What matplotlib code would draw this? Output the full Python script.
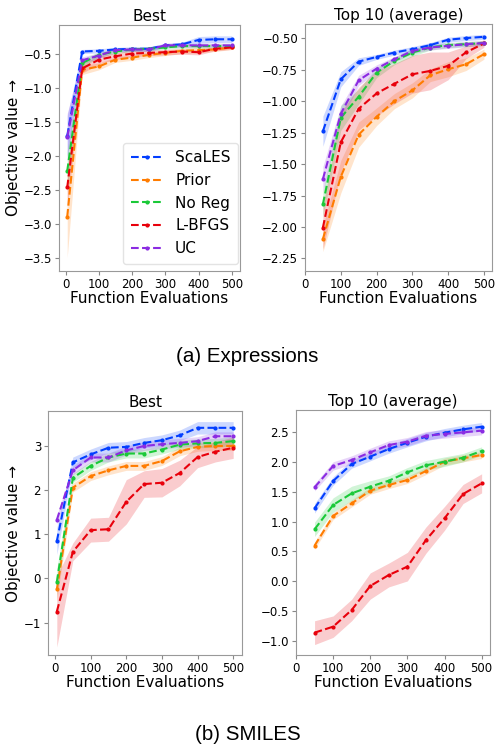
import matplotlib
matplotlib.use("Agg")
import matplotlib.pyplot as plt
import numpy as np

methods = ["ScaLES", "Prior", "No Reg", "L-BFGS", "UC"]
colors = ["#023eff", "#ff7c00", "#1ac938", "#e8000b", "#8b2be2"]

x_best = [5, 50, 100, 150, 200, 250, 300, 350, 400, 450, 500]
x_top = [50, 100, 150, 200, 250, 300, 350, 400, 450, 500]

# (a) Expressions - Best
expr_best = {
    "ScaLES": [-1.70, -0.46, -0.45, -0.43, -0.42, -0.42, -0.37, -0.355, -0.29, -0.28, -0.28],
    "Prior":  [-2.89, -0.73, -0.68, -0.58, -0.55, -0.51, -0.48, -0.45, -0.44, -0.43, -0.40],
    "No Reg": [-2.22, -0.63, -0.51, -0.46, -0.43, -0.42, -0.40, -0.38, -0.38, -0.38, -0.38],
    "L-BFGS": [-2.46, -0.71, -0.58, -0.53, -0.49, -0.48, -0.47, -0.46, -0.47, -0.42, -0.40],
    "UC":     [-1.72, -0.59, -0.52, -0.44, -0.43, -0.43, -0.37, -0.37, -0.37, -0.37, -0.37],
}
expr_best_err = {
    "ScaLES": [0.30, 0.03, 0.03, 0.03, 0.03, 0.03, 0.03, 0.03, 0.05, 0.05, 0.05],
    "Prior":  [0.60, 0.07, 0.05, 0.04, 0.04, 0.04, 0.04, 0.04, 0.04, 0.03, 0.03],
    "No Reg": [0.30, 0.06, 0.04, 0.03, 0.03, 0.03, 0.03, 0.03, 0.03, 0.03, 0.03],
    "L-BFGS": [0.30, 0.07, 0.06, 0.05, 0.05, 0.04, 0.04, 0.04, 0.04, 0.03, 0.03],
    "UC":     [0.35, 0.05, 0.04, 0.03, 0.03, 0.03, 0.03, 0.03, 0.03, 0.03, 0.03],
}

# (a) Expressions - Top 10 (average)
expr_top = {
    "ScaLES": [-1.238, -0.825, -0.684, -0.647, -0.612, -0.585, -0.553, -0.51, -0.497, -0.487],
    "Prior":  [-2.096, -1.60, -1.265, -1.123, -0.998, -0.913, -0.793, -0.745, -0.705, -0.625],
    "No Reg": [-1.819, -1.131, -0.963, -0.772, -0.678, -0.612, -0.572, -0.553, -0.545, -0.537],
    "L-BFGS": [-2.005, -1.326, -1.059, -0.937, -0.86, -0.785, -0.758, -0.718, -0.61, -0.54],
    "UC":     [-1.619, -1.099, -0.833, -0.74, -0.665, -0.60, -0.572, -0.559, -0.545, -0.537],
}
expr_top_err = {
    "ScaLES": [0.12, 0.06, 0.03, 0.02, 0.02, 0.02, 0.02, 0.02, 0.02, 0.02],
    "Prior":  [0.10, 0.13, 0.10, 0.07, 0.06, 0.06, 0.05, 0.06, 0.05, 0.04],
    "No Reg": [0.10, 0.10, 0.06, 0.04, 0.03, 0.03, 0.02, 0.02, 0.02, 0.02],
    "L-BFGS": [0.17, 0.24, 0.17, 0.18, 0.16, 0.15, 0.15, 0.11, 0.05, 0.03],
    "UC":     [0.10, 0.06, 0.04, 0.03, 0.02, 0.02, 0.02, 0.02, 0.02, 0.02],
}

# (b) SMILES - Best
smi_best = {
    "ScaLES": [0.84, 2.62, 2.80, 2.95, 2.97, 3.06, 3.12, 3.23, 3.40, 3.40, 3.40],
    "Prior":  [-0.25, 2.05, 2.31, 2.44, 2.54, 2.54, 2.65, 2.87, 2.97, 2.99, 2.99],
    "No Reg": [-0.08, 2.27, 2.54, 2.73, 2.82, 2.82, 2.91, 3.02, 3.05, 3.06, 3.10],
    "L-BFGS": [-0.75, 0.60, 1.09, 1.11, 1.73, 2.13, 2.16, 2.38, 2.74, 2.86, 2.95],
    "UC":     [1.32, 2.44, 2.73, 2.73, 2.89, 2.99, 3.03, 3.06, 3.10, 3.21, 3.21],
}
smi_best_err = {
    "ScaLES": [0.30, 0.12, 0.12, 0.12, 0.12, 0.12, 0.12, 0.12, 0.14, 0.14, 0.14],
    "Prior":  [0.25, 0.10, 0.10, 0.10, 0.10, 0.10, 0.10, 0.10, 0.10, 0.10, 0.10],
    "No Reg": [0.30, 0.10, 0.10, 0.10, 0.10, 0.10, 0.10, 0.10, 0.10, 0.10, 0.10],
    "L-BFGS": [0.80, 0.20, 0.27, 0.27, 0.50, 0.30, 0.32, 0.29, 0.24, 0.23, 0.24],
    "UC":     [0.10, 0.10, 0.10, 0.10, 0.10, 0.10, 0.10, 0.10, 0.10, 0.10, 0.10],
}

# (b) SMILES - Top 10 (average)
smi_top = {
    "ScaLES": [1.223, 1.683, 1.968, 2.092, 2.22, 2.326, 2.427, 2.494, 2.55, 2.595],
    "Prior":  [0.596, 1.095, 1.307, 1.52, 1.615, 1.70, 1.85, 2.007, 2.063, 2.12],
    "No Reg": [0.871, 1.28, 1.475, 1.587, 1.688, 1.828, 1.946, 2.007, 2.074, 2.186],
    "L-BFGS": [-0.865, -0.764, -0.484, -0.081, 0.104, 0.244, 0.69, 1.055, 1.464, 1.643],
    "UC":     [1.576, 1.935, 2.035, 2.164, 2.287, 2.343, 2.444, 2.472, 2.50, 2.528],
}
smi_top_err = {
    "ScaLES": [0.08, 0.07, 0.07, 0.07, 0.07, 0.07, 0.07, 0.07, 0.07, 0.07],
    "Prior":  [0.06, 0.06, 0.06, 0.06, 0.06, 0.06, 0.06, 0.06, 0.06, 0.06],
    "No Reg": [0.12, 0.12, 0.12, 0.10, 0.08, 0.08, 0.08, 0.08, 0.07, 0.07],
    "L-BFGS": [0.20, 0.18, 0.18, 0.22, 0.20, 0.24, 0.22, 0.20, 0.16, 0.16],
    "UC":     [0.06, 0.07, 0.07, 0.07, 0.07, 0.07, 0.07, 0.07, 0.07, 0.07],
}

W, H = 495, 745
fig = plt.figure(figsize=(W / 100, H / 100), dpi=100)


def px_axes(l, t, r, b):
    return fig.add_axes([l / W, 1 - b / H, (r - l) / W, (b - t) / H])


def draw(ax, xs, data, err, title, ylim, yticks, fmt, xleft=None):
    for m, c in zip(methods, colors):
        y = np.array(data[m])
        e = np.array(err[m])
        ax.fill_between(xs, y - e, y + e, color=c, alpha=0.2, linewidth=0)
        ax.plot(xs, y, linestyle="--", color=c, linewidth=1.5, marker="o",
                markersize=2, label=m)
    ax.set_title(title, fontsize=11, pad=3)
    ax.set_xlabel("Function Evaluations", fontsize=11, labelpad=0)
    ax.set_xticks([0, 100, 200, 300, 400, 500])
    if xleft is not None:
        ax.set_xlim(left=xleft)
    ax.set_yticks(yticks)
    ax.set_yticklabels([fmt.format(v).replace("-", "\u2212") for v in yticks])
    ax.set_ylim(*ylim)
    ax.tick_params(labelsize=8.5, length=3, color="#888888", pad=2)
    for s in ax.spines.values():
        s.set_color("#999999")


ax1 = px_axes(59, 25, 240, 271)
draw(ax1, x_best, expr_best, expr_best_err, "Best", (-3.69, -0.07),
     [-3.5, -3.0, -2.5, -2.0, -1.5, -1.0, -0.5], "{:.1f}")
ax1.set_ylabel("Objective value \u2192", fontsize=11, labelpad=2)
ax1.legend(loc="lower right", bbox_to_anchor=(0.99, 0.03), fontsize=11,
           numpoints=1, borderaxespad=0.0, labelspacing=0.5,
           handlelength=2.1, borderpad=0.5, edgecolor="#dddddd")

ax2 = px_axes(305, 24, 492, 271)
draw(ax2, x_top, expr_top, expr_top_err, "Top 10 (average)", (-2.35, -0.385),
     [-2.25, -2.0, -1.75, -1.5, -1.25, -1.0, -0.75, -0.5], "{:.2f}", xleft=0)

ax3 = px_axes(48, 411, 242, 655)
draw(ax3, x_best, smi_best, smi_best_err, "Best", (-1.73, 3.78),
     [-1, 0, 1, 2, 3], "{:.0f}")
ax3.set_ylabel("Objective value \u2192", fontsize=11, labelpad=2)

ax4 = px_axes(296, 410, 490, 655)
draw(ax4, x_top, smi_top, smi_top_err, "Top 10 (average)", (-1.24, 2.875),
     [-1.0, -0.5, 0.0, 0.5, 1.0, 1.5, 2.0, 2.5], "{:.1f}", xleft=0)

fig.text(0.5, 1 - 356 / H, "(a) Expressions", ha="center", va="center",
         fontsize=14.8, family="Liberation Sans")
fig.text(0.5, 1 - 735 / H, "(b) SMILES", ha="center", va="center",
         fontsize=14.8, family="Liberation Sans")

fig.savefig("out.png", dpi=100)
